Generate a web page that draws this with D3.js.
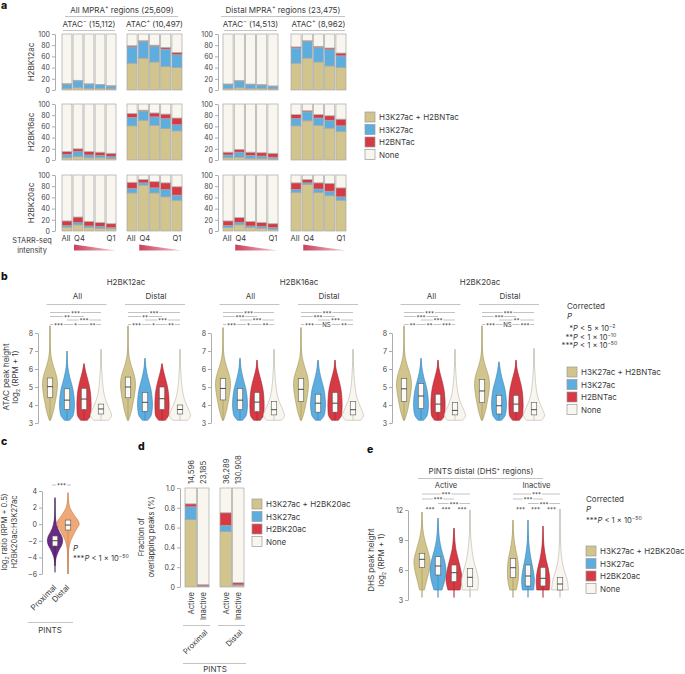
<!DOCTYPE html>
<html><head><meta charset="utf-8">
<script src="https://cdn.jsdelivr.net/npm/d3@7"></script>
<style>body{margin:0;background:#fff}</style></head><body>
<script>
// ---------------- DATA ----------------
// Panel a: stacked bars (% of regions)
const aMarks = ["H2BK12ac","H2BK16ac","H2BK20ac"];
const aBins = ["All","Q4","Q3","Q2","Q1"];
const aTicks = [0,20,40,60,80,100];
const aGroupLabels = [["ATAC","−"," (15,112)"],["ATAC","+"," (10,497)"],["ATAC","−"," (14,513)"],["ATAC","+"," (8,962)"]];
const aBoth = [ // H3K27ac + H2BNTac
 [[3,4,3,3,2],[48,57,50,42,40],[3,4,3,3,2],[48,57,50,43,40]],
 [[4,6,4,4,3],[61,71,62,56,52],[4,5,3,3,2],[61,70,62,57,51]],
 [[7,11,6,5,4],[68,82,68,61,55],[6,11,6,5,3],[69,83,69,63,55]]];
const aK27 = [ // H3K27ac only
 [[7.5,12.5,7.5,6.5,5],[29,30,28,31,23],[7,12,7,6,4.5],[27,30,26,29,21]],
 [[6,9,5,4,3],[15,16,15,18,11],[5,9,5,4,3],[13,16,13,14,10]],
 [[3,4,3,3,2],[8,4,9,13,9],[4,4,3,3,3],[5,3,6,8,6]]];
const aNTac = [ // H2BNTac only
 [[0.8,0.8,0.6,0.6,0.8],[2,1,2,3,4],[0.8,0.8,0.6,0.6,0.8],[2,1,2,3,5]],
 [[5,5,6,6,6],[7,2,7,8,12],[5,5,6,6,7],[7,2,6,8,12]],
 [[8,10,8,7,7],[11,6,11,12,15],[8,9,8,7,7],[12,6,11,14,16]]];
const legNTac = ["H3K27ac + H2BNTac","H3K27ac","H2BNTac","None"];
const legK20 = ["H3K27ac + H2BK20ac","H3K27ac","H2BK20ac","None"];

// Panel b: violins of ATAC peak height
const bMarks = ["H2BK12ac","H2BK16ac","H2BK20ac"];
const bSets = ["All","Distal"];
const bTicks = [3,4,5,6,7,8];
const bMin = 3.15;
const bGrid = [3.15,3.4,3.7,4.0,4.3,4.6,4.9,5.2,5.5,5.8,6.1,6.4,6.7,7.0,7.3,7.6,8.0];
const bDens = [
 [0.08,0.28,0.48,0.62,0.76,0.88,0.97,1.0,0.92,0.74,0.5,0.3,0.15,0.07,0.03,0.015,0.01],
 [0.35,0.8,0.95,1.0,0.97,0.9,0.78,0.6,0.4,0.24,0.12,0.05,0.02,0.01,0.005,0,0],
 [0.45,0.85,0.93,0.95,0.93,0.88,0.78,0.63,0.44,0.25,0.1,0.03,0.01,0,0,0,0],
 [1.0,1.4,1.2,0.88,0.6,0.42,0.3,0.22,0.16,0.12,0.08,0.05,0.03,0.02,0.01,0,0]];
// [q1, median, q3, max] per mark, set, category
const bStats = [
 [[[4.42,5.02,5.5,8.4],[3.75,4.27,4.9,7.0],[3.75,4.33,4.93,6.3],[3.5,3.78,4.05,7.1]],
  [[4.4,5.0,5.55,8.4],[3.65,4.15,4.7,6.6],[3.75,4.35,5.0,6.3],[3.5,3.75,4.0,7.1]]],
 [[[4.28,4.92,5.47,8.3],[3.74,4.27,4.92,6.6],[3.63,4.16,4.7,6.5],[3.45,3.74,4.2,7.1]],
  [[4.2,4.87,5.47,8.3],[3.6,4.1,4.6,6.5],[3.6,4.1,4.7,6.5],[3.45,3.74,4.2,7.1]]],
 [[[4.2,4.9,5.47,8.4],[3.8,4.5,5.2,6.6],[3.6,4.05,4.6,6.5],[3.45,3.7,4.15,7.1]],
  [[4.14,4.78,5.42,8.4],[3.5,3.96,4.54,6.4],[3.6,4.05,4.54,6.5],[3.45,3.74,4.14,7.15]]]];
// significance labels: [1-4, 1-3, 2-4, 1-2, 2-3, 3-4]
const bSig = [
 [["***","**","***","***","*","**"],["***","**","***","***","*","**"]],
 [["***","***","***","***","*","**"],["***","***","***","***","NS","**"]],
 [["***","***","***","**","**","***"],["***","***","**","***","NS","***"]]];

// Panel c: log2 ratio violins
const cCats = ["Proximal","Distal"];
const cTicks = [-6,-4,-2,0,2,4];
const cGrid = [-6,-5,-4,-3,-2.5,-2,-1.5,-1,-0.5,0,0.5,1,2,3,4];
const cDensProx = [0,0.03,0.15,0.6,0.9,1.02,0.92,0.62,0.36,0.2,0.1,0.05,0.02,0.01,0];
const cDensDist = [0,0.02,0.04,0.1,0.2,0.35,0.6,0.88,1.2,1.5,1.3,0.9,0.25,0.05,0];
const cStats = [[-2.63,-1.99,-1.42,-5.8,3.2],[-0.7,-0.1,0.5,-6.0,3.8]]; // q1, med, q3, min, max

// Panel d: fraction of overlapping peaks
const dStates = ["Active","Inactive","Active","Inactive"];
const dGroups = ["Proximal","Distal"];
const dCounts = ["14,596","23,185","36,289","130,908"];
const dTicks = [0,0.2,0.4,0.6,0.8,1.0];
const dBoth = [0.68,0.006,0.56,0.015];
const dK27 = [0.13,0.005,0.06,0.006];
const dK20 = [0.03,0.012,0.13,0.022];

// Panel e: DHS peak height violins
const eSets = ["Active","Inactive"];
const eTicks = [3,6,9,12];
const eGrid = [3.2,4,5,6,7,8,9,10,11,12];
const eDens = [
 [[0.1,0.3,0.6,0.9,1.0,0.7,0.35,0.12,0.03,0.0],[0.15,0.5,0.85,1.0,0.8,0.45,0.2,0.08,0.02,0],[0.25,0.75,1.0,0.85,0.55,0.25,0.1,0.03,0,0],[0.45,0.95,1.05,0.78,0.45,0.25,0.12,0.05,0.02,0.01]],
 [[0.15,0.4,0.65,0.7,0.6,0.35,0.15,0.05,0.02,0],[0.25,0.7,0.8,0.65,0.4,0.2,0.08,0.03,0.01,0],[0.3,0.78,0.85,0.7,0.4,0.18,0.07,0.02,0,0],[0.65,1.05,0.9,0.5,0.25,0.12,0.06,0.03,0.01,0]]];
const eStats = [ // q1, med, q3, max
 [[6.27,7.07,7.67,11.8],[5.5,6.4,7.33,11.2],[4.83,5.73,6.5,10.2],[4.33,5.27,6.17,12.0]],
 [[5.27,6.23,7.17,11.0],[4.4,5.4,6.5,11.0],[4.4,5.17,6.27,10.4],[4.0,4.6,5.27,12.1]]];
const eMin = 3.25;

// ---------------- STYLE ----------------
const FONT = "Inter, 'Noto Sans', 'DejaVu Sans', sans-serif";
const FILL = ["#d1c58d","#5dadde","#d63a45","#f8f6ef"];
const EDGE = ["#a3955c","#3b85b5","#a52430","#b9b6a9"];
const TXT = "#3a3a3a";

const svg = d3.select("body").append("svg").attr("width",685).attr("height",674)
  .style("font-family",FONT);

function txt(g,x,y,s,o={}){
  const t=g.append("text").attr("x",x).attr("y",y).text(s)
    .attr("font-size",o.fs||7.6).attr("fill",o.fill||TXT);
  if(o.anchor) t.attr("text-anchor",o.anchor);
  if(o.rot!=null) t.attr("transform",`rotate(${o.rot},${x},${y})`);
  if(o.bold) t.attr("font-weight",o.bold);
  if(o.it) t.attr("font-style","italic");
  return t;
}
function rich(g,x,y,parts,o={}){
  const fs=o.fs||7.6;
  const t=g.append("text").attr("x",x).attr("y",y).attr("font-size",fs).attr("fill",TXT);
  if(o.anchor) t.attr("text-anchor",o.anchor);
  if(o.rot!=null) t.attr("transform",`rotate(${o.rot},${x},${y})`);
  let shift=0;
  parts.forEach(p=>{
    if(typeof p==="string") p={t:p};
    const sp=t.append("tspan").text(p.t);
    const target=p.sup?-fs*0.38:p.sub?fs*0.25:0;
    sp.attr("dy",target-shift); shift=target;
    if(p.sup||p.sub) sp.attr("font-size",fs*0.68);
    if(p.it) sp.attr("font-style","italic");
  });
  return t;
}
function hline(g,x1,x2,y,c="#aaa",w=0.7){
  g.append("line").attr("x1",x1).attr("x2",x2).attr("y1",y).attr("y2",y).attr("stroke",c).attr("stroke-width",w);
}
function styleAxis(a){
  a.attr("font-family",FONT).attr("font-size",7);
  a.select(".domain").attr("stroke","#8a8a8a").attr("stroke-width",0.7);
  a.selectAll(".tick line").attr("stroke","#8a8a8a").attr("stroke-width",0.7);
  a.selectAll(".tick text").attr("fill","#444");
}
function panelLabel(x,y,s){ txt(svg,x,y,s,{fs:10.5,bold:800,fill:"#111"}); }
function legend(g,x,y0,step,labels){
  labels.forEach((l,i)=>{
    g.append("rect").attr("x",x).attr("y",y0+i*step).attr("width",10).attr("height",10)
      .attr("fill",FILL[i]).attr("stroke","#9a9a9a").attr("stroke-width",0.7);
    txt(g,x+14,y0+i*step+8.3,l,{fs:8});
  });
}
function sig(g,x1,x2,y,label,line=true){
  const cx=(x1+x2)/2;
  if(line) hline(g,x1,x2,y,"#9a9a9a",0.6);
  const t=g.append("text").attr("x",cx).attr("y",y+(label==="NS"?2.3:3.3))
    .attr("text-anchor","middle").attr("font-size",6).attr("fill","#333").text(label);
  if(line){
    const w=t.node().getComputedTextLength();
    g.insert("rect",()=>t.node()).attr("x",cx-w/2-0.8).attr("y",y-1.5).attr("width",w+1.6).attr("height",3).attr("fill","#fff");
  }
}
function violin(g,cx,y,grid,dens,wpx,lo,hi,q1,med,q3,fill,edge,boxW){
  const pts=grid.map((v,i)=>[v,dens[i]]).filter(p=>p[0]>=lo && p[0]<hi);
  pts.push([hi,0]);
  const area=d3.area().curve(d3.curveCatmullRom)
    .y(d=>y(d[0])).x0(d=>cx-d[1]*wpx).x1(d=>cx+d[1]*wpx);
  g.append("line").attr("x1",cx).attr("x2",cx).attr("y1",y(lo)).attr("y2",y(hi))
    .attr("stroke",edge).attr("stroke-width",0.6);
  g.append("path").attr("d",area(pts)).attr("fill",fill).attr("stroke",edge).attr("stroke-width",0.6);
  g.append("line").attr("x1",cx).attr("x2",cx).attr("y1",y(lo)).attr("y2",y(q1))
    .attr("stroke",edge).attr("stroke-width",0.6);
  g.append("rect").attr("x",cx-boxW/2).attr("y",y(q3)).attr("width",boxW).attr("height",y(q1)-y(q3))
    .attr("fill","#fbfaf6").attr("stroke","#555").attr("stroke-width",0.6);
  g.append("line").attr("x1",cx-boxW/2).attr("x2",cx+boxW/2).attr("y1",y(med)).attr("y2",y(med))
    .attr("stroke","#333").attr("stroke-width",0.9);
}
const intFmt = d3.format("d");

// gradient for STARR-seq wedge
const defs=svg.append("defs");
const gr=defs.append("linearGradient").attr("id","wedge");
gr.append("stop").attr("offset","0%").attr("stop-color","#c9405c");
gr.append("stop").attr("offset","100%").attr("stop-color","#f2c9d0");

// ---------------- PANEL A ----------------
panelLabel(1,9,"a");
const gA=svg.append("g");
const aRowTop=[34,104,175], aRowH=56;
const aAxisX=[55,218];
const aGroupRange=[[62,116],[127,182],[223,278],[291,346]];
rich(gA,122,12.5,["All MPRA",{t:"+",sup:true}," regions (25,609)"],{anchor:"middle",fs:8});
rich(gA,283,12.5,["Distal MPRA",{t:"+",sup:true}," regions (23,475)"],{anchor:"middle",fs:8});
hline(gA,65,178,16.5); hline(gA,221,345,16.5);
aGroupLabels.forEach((l,gi)=>{
  const r=aGroupRange[gi], c=(r[0]+r[1])/2;
  rich(gA,c,26.5,[l[0],{t:l[1],sup:true},l[2]],{anchor:"middle",fs:8});
  hline(gA,r[0]+1,r[1]-1,30.5);
});
aMarks.forEach((m,ri)=>{
  const top=aRowTop[ri];
  const y=d3.scaleLinear().domain([0,100]).range([top+aRowH,top]);
  aAxisX.forEach(ax=>{
    const a=gA.append("g").attr("transform",`translate(${ax},0)`)
      .call(d3.axisLeft(y).tickValues(aTicks).tickSize(3).tickSizeOuter(0).tickPadding(2).tickFormat(intFmt));
    styleAxis(a);
  });
  txt(gA,34,top+aRowH/2,m,{anchor:"middle",rot:-90,fs:8});
  aGroupRange.forEach((rng,gi)=>{
    const x=d3.scaleBand().domain(aBins).range(rng).paddingInner(0.1);
    aBins.forEach((b,bi)=>{
      const segs=[aBoth[ri][gi][bi],aK27[ri][gi][bi],aNTac[ri][gi][bi]];
      const cum=d3.cumsum(segs);
      const vals=[[0,cum[0]],[cum[0],cum[1]],[cum[1],cum[2]],[cum[2],100]];
      vals.forEach((v,k)=>{
        gA.append("rect").attr("x",x(b)).attr("width",x.bandwidth())
          .attr("y",y(v[1])).attr("height",y(v[0])-y(v[1]))
          .attr("fill",FILL[k]).attr("stroke","#a8a8a8").attr("stroke-width",0.7);
      });
    });
    if(ri===2){
      const ly=top+aRowH+9.5;
      [[0,-1],[1,1.5],[4,0]].forEach(([i,dx])=>txt(gA,x(aBins[i])+x.bandwidth()/2+dx,ly,aBins[i],{anchor:"middle",fs:7.6}));
      const xl=x(aBins[1])+1, xr=x(aBins[4])+x.bandwidth();
      gA.append("path").attr("d",`M${xl},${ly+4}L${xr},${ly+10}L${xl},${ly+10}Z`).attr("fill","url(#wedge)");
    }
  });
});
txt(gA,32,242.5,"STARR-seq",{anchor:"middle",fs:7.4});
txt(gA,32,253,"intensity",{anchor:"middle",fs:7.4});
legend(gA,365,112,12.5,legNTac);

// ---------------- PANEL B ----------------
panelLabel(1,280,"b");
const gB=svg.append("g");
const bY=d3.scaleLinear().domain([3,8]).range([423,333]);
const bAxisX=[38,211,392];
const bOff=[[12,29,46,63],[90,107,124,142]];
bMarks.forEach((m,mi)=>{
  const A=bAxisX[mi];
  txt(gB,A+88,285,m,{anchor:"middle",fs:8});
  const a=gB.append("g").attr("transform",`translate(${A},0)`)
    .call(d3.axisLeft(bY).tickValues(bTicks).tickSize(3).tickSizeOuter(0).tickPadding(2).tickFormat(intFmt));
  styleAxis(a);
  bSets.forEach((s,si)=>{
    const xs=bOff[si].map(o=>A+o);
    const c=(xs[0]+xs[3])/2;
    txt(gB,c+2,299,s,{anchor:"middle",fs:8});
    hline(gB,c-29,c+31,304.5);
    const L=bSig[mi][si];
    sig(gB,xs[0],xs[3],312.5,L[0]);
    sig(gB,xs[0],xs[2],316.5,L[1]);
    sig(gB,xs[1],xs[3],320,L[2]);
    sig(gB,xs[0],xs[1],324.5,L[3]);
    sig(gB,xs[1],xs[2],324.5,L[4]);
    sig(gB,xs[2],xs[3],324.5,L[5]);
    xs.forEach((cx,k)=>{
      const st=bStats[mi][si][k];
      violin(gB,cx,bY,bGrid,bDens[k],7.5,bMin,st[3],st[0],st[1],st[2],FILL[k],EDGE[k],5.5);
    });
  });
});
rich(gB,9,377,["ATAC peak height"],{anchor:"middle",rot:-90,fs:8});
rich(gB,18,377,["log",{t:"2",sub:true}," (RPM + 1)"],{anchor:"middle",rot:-90,fs:8});
txt(gB,567,309,"Corrected",{fs:8});
txt(gB,567,318.5,"P",{fs:8,it:true});
[["*","5","−2"],["**","1","−10"],["***","1","−50"]].forEach((r,i)=>{
  const yy=331+i*8.6;
  txt(gB,573,yy,r[0],{anchor:"end",fs:7.6});
  rich(gB,573,yy,[{t:"P",it:true}," < "+r[1]+" × 10",{t:r[2],sup:true}],{fs:7.6});
});
legend(gB,567,367,12.5,legNTac);

// ---------------- PANEL C ----------------
panelLabel(1,445,"c");
const gC=svg.append("g");
const cY=d3.scaleLinear().domain([-6,4]).range([574,491]);
const aC=gC.append("g").attr("transform","translate(42,0)")
  .call(d3.axisLeft(cY).tickValues(cTicks).tickSize(3).tickSizeOuter(0).tickPadding(2));
styleAxis(aC);
const cX=[55,68];
sig(gC,cX[0]-3,cX[1]+3,485,"***");
[cDensProx,cDensDist].forEach((dn,i)=>{
  const st=cStats[i];
  violin(gC,cX[i],cY,cGrid,dn,7.5,st[3],st[4],st[0],st[1],st[2],i?"#f0a877":"#682c82",i?"#c07a48":"#3f1456",5.5);
});
cCats.forEach((c,i)=>txt(gC,cX[i]+2,588,c,{anchor:"end",rot:-45,fs:8}));
hline(gC,28,73,622.5);
txt(gC,50,633,"PINTS",{anchor:"middle",fs:8});
rich(gC,7,532,["log",{t:"2",sub:true}," ratio (RPM + 0.5)"],{anchor:"middle",rot:-90,fs:7.6});
txt(gC,17,532,"H2BK20ac:H3K27ac",{anchor:"middle",rot:-90,fs:7.6});
txt(gC,73,551,"P",{fs:8,it:true});
rich(gC,73,561,["***",{t:"P",it:true}," < 1 × 10",{t:"−50",sup:true}],{fs:7.6});

// ---------------- PANEL D ----------------
panelLabel(138,450,"d");
const gD=svg.append("g");
const dY=d3.scaleLinear().domain([0,1]).range([587,488]);
const aD=gD.append("g").attr("transform","translate(180,0)")
  .call(d3.axisLeft(dY).tickValues(dTicks).tickSize(3).tickSizeOuter(0).tickPadding(2)
    .tickFormat(d=>d===0?"0":d3.format(".1f")(d)));
styleAxis(aD);
const dRanges=[[185,209],[220,244]];
dGroups.forEach((gname,gi)=>{
  const x=d3.scaleBand().domain([0,1]).range(dRanges[gi]).paddingInner(0.08);
  [0,1].forEach(j=>{
    const i=gi*2+j;
    const cum=d3.cumsum([dBoth[i],dK27[i],dK20[i]]);
    const vals=[[0,cum[0]],[cum[0],cum[1]],[cum[1],cum[2]],[cum[2],1]];
    vals.forEach((v,k)=>{
      gD.append("rect").attr("x",x(j)).attr("width",x.bandwidth())
        .attr("y",dY(v[1])).attr("height",dY(v[0])-dY(v[1]))
        .attr("fill",FILL[k]).attr("stroke","#a8a8a8").attr("stroke-width",0.7);
    });
    const cx=x(j)+x.bandwidth()/2;
    txt(gD,cx+2.8,484,dCounts[i],{rot:-90,fs:7.6});
    txt(gD,cx+2.8,592,dStates[i],{anchor:"end",rot:-90,fs:7.6});
  });
  const r=dRanges[gi];
  hline(gD,r[0]-2,r[1]+1,625.5);
  txt(gD,r[1]-1,633,gname,{anchor:"end",rot:-45,fs:7.6});
});
hline(gD,183,246,663.5);
txt(gD,215,672,"PINTS",{anchor:"middle",fs:8});
txt(gD,144,537,"Fraction of",{anchor:"middle",rot:-90,fs:7.6});
txt(gD,154,537,"overlapping peaks (%)",{anchor:"middle",rot:-90,fs:7.6});
legend(gD,252,499,12.5,legK20);

// ---------------- PANEL E ----------------
panelLabel(367,453,"e");
const gE=svg.append("g");
const eY=d3.scaleLinear().domain([3,12]).range([600,510]);
const aE=gE.append("g").attr("transform","translate(408,0)")
  .call(d3.axisLeft(eY).tickValues(eTicks).tickSize(3).tickSizeOuter(0).tickPadding(2).tickFormat(intFmt));
styleAxis(aE);
rich(gE,481,474,["PINTS distal (DHS",{t:"+",sup:true}," regions)"],{anchor:"middle",fs:8});
hline(gE,418,543,478.5);
const eX=[[422,438,454,470],[513,528,543,560]];
eSets.forEach((s,si)=>{
  const xs=eX[si];
  txt(gE,(xs[0]+xs[3])/2,488,s,{anchor:"middle",fs:7.6});
  sig(gE,xs[0],xs[3],494,"***");
  sig(gE,xs[0],xs[2],499,"***");
  sig(gE,xs[1],xs[3],503.5,"***");
  for(let k=0;k<3;k++) sig(gE,xs[k],xs[k+1],509,"***",false);
  xs.forEach((cx,k)=>{
    const st=eStats[si][k];
    violin(gE,cx,eY,eGrid,eDens[si][k],8,eMin,st[3],st[0],st[1],st[2],FILL[k],EDGE[k],5.5);
  });
});
rich(gE,374,560,["DHS peak height"],{anchor:"middle",rot:-90,fs:8});
rich(gE,384,560,["log",{t:"2",sub:true}," (RPM + 1)"],{anchor:"middle",rot:-90,fs:8});
txt(gE,586,502,"Corrected",{fs:8});
txt(gE,586,511.5,"P",{fs:8,it:true});
rich(gE,586,523,["***",{t:"P",it:true}," < 1 × 10",{t:"−50",sup:true}],{fs:7.6});
legend(gE,586,546,12.5,legK20);
</script></body></html>
